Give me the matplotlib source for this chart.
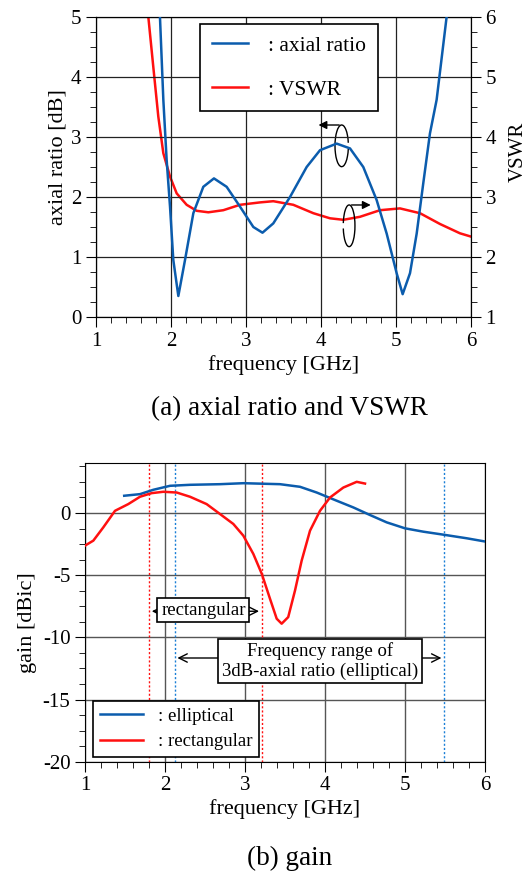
import matplotlib.pyplot as plt
from matplotlib.patches import Arc
from matplotlib.ticker import MultipleLocator

plt.rcParams['font.family'] = ['Liberation Serif', 'DejaVu Serif']
plt.rcParams['font.size'] = 15
plt.rcParams['axes.unicode_minus'] = False

# (a) axial ratio and VSWR
ar_freq = [1.853, 1.898, 1.942, 1.987, 2.031, 2.098, 2.187, 2.298, 2.431, 2.573, 2.742,
           2.92, 3.098, 3.22, 3.364, 3.587, 3.809, 3.987, 4.209, 4.387, 4.564, 4.742,
           4.876, 5.009, 5.089, 5.187, 5.276, 5.364, 5.453, 5.542, 5.675]
ar_val = [5.0, 3.62, 2.62, 1.84, 0.95, 0.35, 0.95, 1.73, 2.17, 2.31, 2.17,
          1.84, 1.5, 1.405, 1.56, 2.0, 2.5, 2.78, 2.89, 2.81, 2.5, 1.95,
          1.39, 0.73, 0.38, 0.73, 1.39, 2.23, 3.06, 3.62, 5.0]
vswr_freq = [1.698, 1.764, 1.831, 1.898, 1.987, 2.076, 2.209, 2.342, 2.498, 2.698, 2.92,
             3.187, 3.364, 3.631, 3.898, 4.12, 4.298, 4.52, 4.787, 5.053, 5.32, 5.587,
             5.853, 6.0]
vswr_val = [6.0, 5.17, 4.34, 3.73, 3.34, 3.06, 2.87, 2.77, 2.745, 2.78, 2.87,
            2.91, 2.93, 2.87, 2.73, 2.645, 2.62, 2.67, 2.78, 2.81, 2.73, 2.55,
            2.395, 2.34]

# (b) gain
ell_freq = [1.49, 1.6875, 1.854, 2.0625, 2.3125, 2.6875, 2.98, 3.4375, 3.6875, 3.896,
            4.146, 4.354, 4.5625, 4.771, 5.0, 5.229, 5.479, 5.771, 6.0]
ell_gain = [1.39, 1.52, 1.87, 2.19, 2.27, 2.32, 2.4, 2.32, 2.11, 1.65,
            0.99, 0.45, -0.16, -0.75, -1.23, -1.5, -1.74, -2.03, -2.29]
rect_freq = [1.0, 1.104, 1.229, 1.375, 1.541, 1.6875, 1.833, 1.979, 2.146, 2.3125, 2.52,
             2.6875, 2.854, 2.979, 3.104, 3.21, 3.3125, 3.396, 3.458, 3.54, 3.625, 3.708,
             3.8125, 3.9375, 4.0625, 4.229, 4.396, 4.5]
rect_gain = [-2.62, -2.22, -1.15, 0.18, 0.72, 1.31, 1.6, 1.71, 1.65, 1.31, 0.72,
             -0.08, -0.88, -1.82, -3.29, -4.9, -6.9, -8.5, -8.9, -8.37, -6.23, -3.83,
             -1.42, 0.18, 1.25, 2.05, 2.51, 2.37]
rect_band = [1.8, 3.21]
ell_band = [2.12, 5.49]

blue = '#0b5cad'
red = '#ff1010'

fig = plt.figure(figsize=(5.28, 8.73), dpi=100)

ax1 = fig.add_axes([0.1818, 0.6369, 0.7102, 0.3436])
ax1.plot(ar_freq, ar_val, color=blue, lw=1.8, label=': axial ratio', zorder=3)
ax2 = ax1.twinx()
ax2.plot(vswr_freq, vswr_val, color=red, lw=1.8, zorder=3)
ax1.plot([], [], color=red, lw=1.8, label=': VSWR')
ax1.set_xlim(1, 6)
ax1.set_ylim(0, 5)
ax2.set_ylim(1, 6)
ax1.set_xticks(range(1, 7))
ax1.xaxis.set_minor_locator(MultipleLocator(0.2))
ax1.yaxis.set_minor_locator(MultipleLocator(0.25))
ax2.yaxis.set_minor_locator(MultipleLocator(0.25))
for a in (ax1, ax2):
    a.tick_params(which='both', direction='out')
    a.tick_params(which='major', length=7)
    a.tick_params(which='minor', length=4)
ax1.grid(True, which='major', color='#222222', lw=0.9)
ax1.set_xlabel('frequency [GHz]', fontsize=16, labelpad=3)
ax1.set_ylabel('axial ratio [dB]', fontsize=16)
ax1.yaxis.set_label_coords(-0.075, 0.533)
ax2.set_ylabel('VSWR', fontsize=15)
ax2.yaxis.set_label_coords(1.102, 0.55)
ax1.set_zorder(ax2.get_zorder() + 1)
ax1.patch.set_visible(False)
leg = ax1.legend(loc='upper left', bbox_to_anchor=(0.277, 0.977), borderaxespad=0,
                 fancybox=False, edgecolor='black', framealpha=1, handlelength=1.7,
                 borderpad=0.55, labelspacing=1.1, fontsize=15.5, handletextpad=0.9)
leg.get_frame().set_linewidth(1.2)

# rotation markers
ax1.add_patch(Arc((4.276, 2.853), 0.178, 0.695, theta1=30, theta2=330, color='black', lw=1))
ax1.annotate('', xy=(3.93, 3.2), xytext=(4.28, 3.2),
             arrowprops=dict(arrowstyle='-|>', color='black', lw=1, mutation_scale=12))
ax1.add_patch(Arc((4.375, 1.52), 0.156, 0.695, theta1=-150, theta2=150, color='black', lw=1))
ax1.annotate('', xy=(4.70, 1.867), xytext=(4.37, 1.867),
             arrowprops=dict(arrowstyle='-|>', color='black', lw=1, mutation_scale=12))
fig.text(0.549, 0.5315, '(a) axial ratio and VSWR', ha='center', va='center', fontsize=19.5)

# gain plot
ax3 = fig.add_axes([0.161, 0.1275, 0.7576, 0.3418])
for f in rect_band:
    ax3.axvline(f, color=red, lw=1, ls=(0, (1.5, 1.5)), zorder=2)
for f in ell_band:
    ax3.axvline(f, color='#1a7fd6', lw=1, ls=(0, (1.5, 1.5)), zorder=2)
ax3.plot(ell_freq, ell_gain, color=blue, lw=1.8, label=': elliptical', zorder=3)
ax3.plot(rect_freq, rect_gain, color=red, lw=1.8, label=': rectangular', zorder=3)
ax3.set_xlim(1, 6)
ax3.set_ylim(-20, 4)
ax3.set_xticks(range(1, 7))
ax3.set_yticks([-20, -15, -10, -5, 0])
ax3.xaxis.set_minor_locator(MultipleLocator(0.2))
ax3.yaxis.set_minor_locator(MultipleLocator(1.25))
ax3.tick_params(which='both', direction='out')
ax3.tick_params(which='major', length=7)
ax3.tick_params(which='minor', length=4)
ax3.grid(True, which='major', color='#555555', lw=1)
ax3.set_xlabel('frequency [GHz]', fontsize=16, labelpad=3)
ax3.set_ylabel('gain [dBic]', fontsize=16)
ax3.yaxis.set_label_coords(-0.12, 0.465)

ax3.annotate('', xy=(rect_band[0], -7.9), xytext=(2.48, -7.9),
             arrowprops=dict(arrowstyle='->', color='black', lw=1))
ax3.annotate('', xy=(rect_band[1], -7.9), xytext=(2.48, -7.9),
             arrowprops=dict(arrowstyle='->', color='black', lw=1))
ax3.text(2.48, -7.8, 'rectangular', ha='center', va='center', fontsize=13.5, zorder=5,
         bbox=dict(boxstyle='square,pad=0.2', fc='white', ec='black', lw=1.2))
ax3.annotate('', xy=(ell_band[0], -11.66), xytext=(3.94, -11.66),
             arrowprops=dict(arrowstyle='->', color='black', lw=1))
ax3.annotate('', xy=(ell_band[1], -11.66), xytext=(3.94, -11.66),
             arrowprops=dict(arrowstyle='->', color='black', lw=1))
ax3.text(3.94, -11.9, 'Frequency range of\n3dB-axial ratio (elliptical)', ha='center',
         va='center', fontsize=13.5, zorder=5, linespacing=1.15,
         bbox=dict(boxstyle='square,pad=0.2', fc='white', ec='black', lw=1.2))
leg2 = ax3.legend(loc='upper left', bbox_to_anchor=(0.02, 0.203), borderaxespad=0,
                  fancybox=False, edgecolor='black', framealpha=1, handlelength=2.3,
                  borderpad=0.35, labelspacing=0.45, fontsize=13.5, handletextpad=0.8)
leg2.set_zorder(6)
leg2.get_frame().set_linewidth(1.2)
fig.text(0.549, 0.0172, '(b) gain', ha='center', va='center', fontsize=19.5)

fig.savefig('out.png', dpi=100)
